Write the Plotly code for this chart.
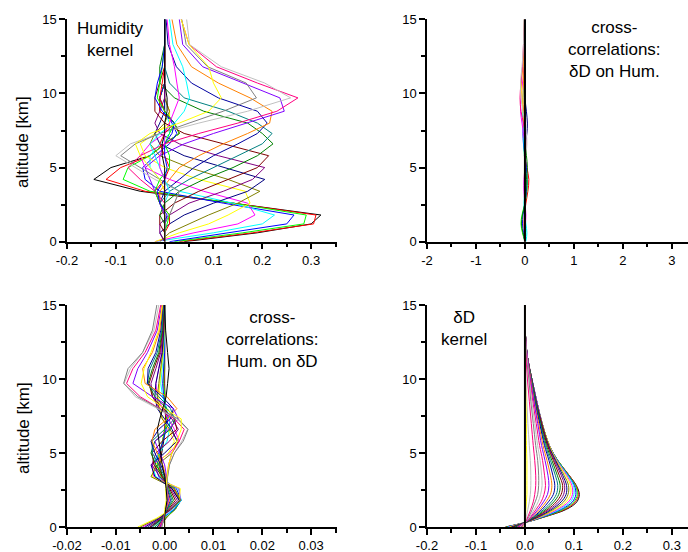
import plotly.graph_objects as go

FONT = "Liberation Sans, Arial, sans-serif"
W, H = 688, 552

# ---------------- colours (Origin palette order) ----------------
BLACK, RED, GREEN, BLUE, CYAN, MAGENTA, YELLOW = "#000000", "#FF0000", "#00FF00", "#0000FF", "#00FFFF", "#FF00FF", "#FFFF00"
DKYELLOW, NAVY, PURPLE, WINE, OLIVE, DKCYAN, ROYAL = "#808000", "#000080", "#800080", "#800000", "#008000", "#008080", "#0000A0"
ORANGE, VIOLET, PINK, LTGRAY, GRAY = "#FF8000", "#8000FF", "#FF0080", "#C0C0C0", "#808080"

# ---------------- altitude grids (km) ----------------
alt_levels = [0, 0.6, 1.2, 1.8, 2.6, 3.4, 4.2, 5.0, 5.8, 6.6, 7.3, 8.0, 8.8, 9.7, 10.7, 11.8, 13.3, 15]
alt_levels_dD = [0, 0.3, 0.7, 1.2, 1.7, 2.2, 2.8, 3.5, 4.5, 5.5, 7.0, 8.5, 10.0, 11.5, 13.0, 15.0]

# ---------------- panel 1: humidity kernel ----------------
hum_colors = [BLACK, RED, GREEN, BLUE, CYAN, MAGENTA, YELLOW, DKYELLOW, NAVY, PURPLE, WINE, OLIVE,
              DKCYAN, ROYAL, ORANGE, VIOLET, PINK, LTGRAY, GRAY,
              RED, GREEN, BLUE, CYAN, MAGENTA, YELLOW, BLACK]
hum_rows = [
    [0.04, 0.19, 0.30, 0.32, 0.14, -0.05, -0.145, -0.11, -0.03, 0.00, 0.03, 0.02, -0.01, -0.01, 0, 0, 0, 0],
    [0.03, 0.18, 0.305, 0.31, 0.14, -0.04, -0.12, -0.09, -0.03, 0.00, 0.03, 0.02, -0.01, -0.01, 0, 0, 0, 0],
    [0.02, 0.16, 0.285, 0.29, 0.14, -0.03, -0.085, -0.075, -0.03, 0.00, 0.03, 0.02, 0.00, -0.01, 0, 0, 0, 0],
    [0.01, 0.13, 0.25, 0.265, 0.12, -0.01, -0.04, -0.045, -0.02, 0.01, 0.025, 0.015, 0.00, -0.01, 0, 0, 0, 0],
    [-0.02, 0.10, 0.20, 0.225, 0.14, 0.03, -0.01, -0.03, -0.03, -0.01, 0.01, 0.01, 0.00, 0.00, 0, 0, 0, 0],
    [-0.02, 0.06, 0.15, 0.185, 0.17, 0.08, 0.01, -0.04, -0.05, -0.03, 0.00, 0.01, 0.01, 0.00, 0, 0, 0, 0],
    [-0.02, 0.03, 0.09, 0.13, 0.175, 0.165, 0.07, 0.00, -0.04, -0.05, -0.02, 0.01, 0.01, 0.00, 0, 0, 0, 0],
    [-0.01, 0.01, 0.05, 0.09, 0.15, 0.195, 0.13, 0.05, -0.01, -0.03, -0.02, 0.00, 0.01, 0.00, 0, 0, 0, 0],
    [0.00, -0.01, 0.01, 0.04, 0.10, 0.17, 0.205, 0.12, 0.04, -0.01, -0.02, -0.01, 0.00, 0.00, 0, 0, 0, 0],
    [0.00, -0.01, -0.01, 0.01, 0.05, 0.12, 0.18, 0.205, 0.11, 0.03, -0.01, -0.02, -0.01, 0.00, 0, 0, 0, 0],
    [0.00, 0.00, -0.01, -0.01, 0.02, 0.07, 0.13, 0.19, 0.213, 0.12, 0.04, 0.00, -0.02, -0.02, -0.01, 0, 0, 0],
    [0.00, 0.00, 0.00, -0.01, 0.00, 0.03, 0.08, 0.14, 0.19, 0.222, 0.20, 0.17, 0.08, 0.02, -0.01, -0.01, 0, 0],
    [0.00, 0.00, 0.00, 0.00, -0.01, 0.01, 0.05, 0.10, 0.15, 0.20, 0.22, 0.19, 0.13, 0.04, 0.01, 0.00, 0, 0],
    [0.00, 0.00, 0.00, 0.00, -0.01, 0.00, 0.03, 0.06, 0.10, 0.15, 0.19, 0.21, 0.19, 0.11, 0.055, 0.024, 0.007, 0.003],
    [0.00, 0.00, 0.00, 0.00, -0.01, -0.01, 0.01, 0.03, 0.07, 0.12, 0.17, 0.215, 0.22, 0.175, 0.11, 0.055, 0.025, 0.015],
    [0.00, 0.00, 0.00, 0.00, -0.01, -0.02, -0.03, -0.04, -0.01, 0.04, 0.10, 0.17, 0.245, 0.236, 0.16, 0.078, 0.037, 0.030],
    [0.00, 0.00, 0.00, 0.00, 0.00, -0.02, -0.05, -0.075, -0.05, 0.00, 0.07, 0.15, 0.23, 0.273, 0.19, 0.106, 0.05, 0.034],
    [0.00, 0.00, 0.00, 0.01, 0.02, 0.03, -0.02, -0.06, -0.10, -0.07, -0.01, 0.07, 0.17, 0.258, 0.205, 0.116, 0.051, 0.045],
    [0.00, 0.00, 0.00, 0.01, 0.02, 0.03, -0.01, -0.05, -0.09, -0.06, -0.01, 0.05, 0.12, 0.188, 0.167, 0.088, 0.044, 0.035],
    [0.00, 0.00, 0.01, 0.01, -0.01, -0.02, 0.00, 0.01, 0.00, -0.01, 0.00, 0.02, 0.00, -0.01, -0.005, 0, 0, 0],
    [0.00, 0.00, 0.005, 0.01, -0.01, -0.02, -0.01, 0.01, 0.01, 0.00, 0.01, 0.02, 0.00, -0.015, -0.01, -0.005, 0, 0],
    [0.00, 0.00, 0.00, 0.005, -0.01, -0.015, 0.00, 0.005, 0.00, 0.00, 0.015, 0.02, -0.005, -0.02, -0.015, -0.005, 0, 0],
    [0.00, 0.00, 0.00, 0.00, 0.00, 0.01, 0.00, -0.01, -0.02, -0.03, -0.01, 0.02, 0.04, 0.051, 0.045, 0.037, 0.017, 0.01],
    [0.00, 0.00, 0.00, 0.00, 0.00, 0.00, 0.00, -0.01, -0.01, 0.00, 0.00, 0.01, 0.02, 0.03, 0.025, 0.02, 0.01, 0.005],
    [0.00, 0.00, 0.00, 0.00, 0.00, 0.00, -0.01, -0.03, -0.05, -0.06, -0.03, 0.03, 0.09, 0.116, 0.10, 0.09, 0.05, 0.034],
    [0.00, 0.00, 0.00, 0.00, 0.00, 0.00, 0.00, 0.00, -0.005, -0.005, 0.00, 0.00, 0.005, 0.005, 0.00, 0.00, 0.00, 0.00],
]

# ---------------- panel 2: cross-correlations dD on Hum. ----------------
dh_colors = [RED, GREEN, BLUE, CYAN, MAGENTA, YELLOW, NAVY, ORANGE, PINK, LTGRAY, OLIVE, BLACK]
dh_rows = [
    [0.0, -0.01, -0.02, -0.01, 0.02, 0.06, 0.08, 0.04, 0.0, -0.02, -0.03, -0.02, -0.01, 0, 0, 0, 0, 0],
    [0.0, -0.05, -0.08, -0.06, 0.0, 0.04, 0.05, 0.02, -0.01, -0.02, -0.02, -0.01, 0, 0, 0, 0, 0, 0],
    [0.0, -0.03, -0.05, -0.04, 0.0, 0.03, 0.04, 0.03, 0.0, -0.03, -0.04, -0.03, -0.01, 0, 0, 0, 0, 0],
    [0.02, 0.04, 0.02, 0.0, -0.02, 0.0, 0.02, 0.01, -0.01, -0.02, -0.03, -0.04, -0.05, -0.04, -0.02, -0.01, 0, 0],
    [0, 0, 0.01, 0.02, 0.0, -0.02, -0.02, 0.0, 0.01, 0.0, -0.03, -0.06, -0.09, -0.08, -0.05, -0.02, -0.01, 0],
    [0, 0, 0, 0.01, 0.01, 0.0, -0.01, -0.01, 0.0, 0.01, 0.0, -0.02, -0.04, -0.06, -0.07, -0.04, -0.02, -0.01],
    [0, 0, 0, 0, 0, 0, 0, 0, -0.01, 0.01, 0.04, 0.05, 0.03, 0.0, -0.01, -0.01, 0, 0],
    [0, 0, 0, 0, 0, 0, 0, 0, 0.01, 0.02, 0.0, -0.02, -0.03, -0.04, -0.03, -0.02, -0.02, -0.01],
    [0, 0, 0, 0, 0, 0, 0, 0, 0.01, 0.02, 0.01, -0.03, -0.08, -0.1, -0.08, -0.05, -0.03, -0.01],
    [0, 0, 0, 0, 0.01, 0.01, 0, 0, 0.02, 0.04, 0.03, 0.0, -0.04, -0.08, -0.09, -0.06, -0.03, -0.02],
    [0, -0.04, -0.07, -0.05, 0.0, 0.02, 0.03, 0.05, 0.03, 0.0, -0.01, 0, 0, 0, 0, 0, 0, 0],
    [0, 0, 0, 0, 0, 0, 0, 0, 0, 0, 0, 0, 0, 0, 0, 0, 0, 0],
]

# ---------------- panel 3: cross-correlations Hum. on dD ----------------
hd_colors = [BLACK, RED, GREEN, BLUE, CYAN, MAGENTA, YELLOW, DKYELLOW, NAVY, PURPLE, WINE, OLIVE,
             DKCYAN, ROYAL, ORANGE, VIOLET, PINK, LTGRAY, GRAY, YELLOW, BLACK]
hd_rows = [
    [-0.0010, 0.0003, 0.0020, 0.0030, 0.0015, -0.0005, -0.0010, -0.0006, -0.0002, 0.0, 0.0002, 0.0001, 0.0, 0.0, 0.0, 0.0, 0.0, 0.0],
    [-0.0015, 0.0002, 0.0022, 0.0032, 0.0018, -0.0006, -0.0012, -0.0008, -0.0003, 0.0, 0.0003, 0.0002, 0.0, -0.0001, 0.0, 0.0, 0.0, 0.0],
    [-0.0020, 0.0, 0.0022, 0.0033, 0.0020, -0.0008, -0.0015, -0.0010, -0.0004, 0.0001, 0.0004, 0.0002, 0.0, -0.0002, -0.0001, 0.0, 0.0, 0.0],
    [-0.0028, -0.0003, 0.0020, 0.0034, 0.0024, -0.0012, -0.0020, -0.0012, -0.0003, 0.0003, 0.0006, 0.0003, -0.0002, -0.0004, -0.0002, 0.0, 0.0, 0.0],
    [-0.0035, -0.0006, 0.0018, 0.0034, 0.0028, -0.0018, -0.0026, -0.0010, 0.0005, 0.0010, 0.0010, 0.0004, -0.0004, -0.0008, -0.0005, -0.0002, 0.0, 0.0],
    [-0.0045, -0.0010, 0.0015, 0.0032, 0.0030, -0.0022, -0.0026, 0.0010, 0.0030, 0.0020, 0.0008, -0.0004, -0.0015, -0.0018, -0.0012, -0.0006, -0.0002, 0.0],
    [-0.0055, -0.0016, 0.0012, 0.0030, 0.0032, -0.0026, -0.0020, 0.0008, 0.0020, 0.0008, -0.0004, -0.0010, -0.0012, -0.0010, -0.0006, -0.0003, -0.0001, 0.0],
    [-0.0050, -0.0012, 0.0014, 0.0033, 0.0020, -0.0028, -0.0015, 0.0015, 0.0028, 0.0010, -0.0005, -0.0012, -0.0015, -0.0012, -0.0008, -0.0004, -0.0001, 0.0],
    [-0.0040, -0.0010, 0.0012, 0.0030, 0.0015, -0.0020, -0.0028, 0.0, 0.0025, 0.0015, 0.0, -0.0015, -0.0020, -0.0018, -0.0012, -0.0005, -0.0002, 0.0],
    [-0.0035, -0.0008, 0.0010, 0.0026, 0.0012, -0.0010, -0.0026, -0.0018, 0.0010, 0.0028, 0.0015, -0.0010, -0.0025, -0.0028, -0.0018, -0.0008, -0.0003, -0.0001],
    [-0.0030, -0.0006, 0.0008, 0.0022, 0.0010, -0.0005, -0.0022, -0.0026, -0.0005, 0.0025, 0.0020, -0.0003, -0.0025, -0.0032, -0.0022, -0.0010, -0.0004, -0.0001],
    [-0.0025, -0.0005, 0.0006, 0.0018, 0.0008, -0.0002, -0.0018, -0.0028, -0.0020, 0.0012, 0.0022, 0.0005, -0.0020, -0.0034, -0.0025, -0.0012, -0.0005, -0.0002],
    [-0.0020, -0.0004, 0.0005, 0.0015, 0.0006, 0.0, -0.0012, -0.0025, -0.0026, 0.0, 0.0020, 0.0012, -0.0012, -0.0036, -0.0030, -0.0015, -0.0006, -0.0002],
    [-0.0015, -0.0003, 0.0004, 0.0012, 0.0005, 0.0002, -0.0008, -0.0020, -0.0028, -0.0012, 0.0012, 0.0018, -0.0005, -0.0035, -0.0034, -0.0018, -0.0008, -0.0003],
    [-0.0012, -0.0002, 0.0003, 0.0010, 0.0004, 0.0003, -0.0004, -0.0015, -0.0026, -0.0020, 0.0005, 0.0025, 0.0005, -0.0040, -0.0045, -0.0025, -0.0010, -0.0004],
    [-0.0010, -0.0002, 0.0002, 0.0008, 0.0004, 0.0004, 0.0, -0.0010, -0.0020, 0.0008, 0.0028, 0.0018, -0.0025, -0.0065, -0.0055, -0.0035, -0.0015, -0.0006],
    [-0.0008, -0.0002, 0.0002, 0.0006, 0.0004, 0.0005, 0.0008, 0.0015, 0.0030, 0.0040, 0.0020, -0.0010, -0.0050, -0.0078, -0.0065, -0.0040, -0.0018, -0.0008],
    [-0.0006, -0.0001, 0.0002, 0.0005, 0.0004, 0.0006, 0.0010, 0.0020, 0.0035, 0.0047, 0.0025, -0.0015, -0.0060, -0.0083, -0.0070, -0.0045, -0.0022, -0.0012],
    [-0.0006, -0.0001, 0.0002, 0.0005, 0.0004, 0.0006, 0.0010, 0.0020, 0.0038, 0.0048, 0.0028, -0.0010, -0.0055, -0.0084, -0.0075, -0.0045, -0.0025, -0.0016],
    [0.0, 0.0, 0.0, 0.0003, 0.0002, 0.0005, 0.0008, 0.0015, 0.0025, 0.0034, 0.0034, 0.0, -0.0035, -0.0048, -0.0042, -0.0028, -0.0012, -0.0005],
    [0.0, 0.0, 0.0002, 0.0005, 0.0003, 0.0, -0.0005, -0.0008, -0.0012, -0.0015, -0.0010, -0.0004, 0.0003, 0.0006, 0.0009, 0.0006, 0.0002, 0.0],
]

# ---------------- panel 4: dD kernel ----------------
dd_colors = [BLACK, RED, GREEN, BLUE, CYAN, MAGENTA, YELLOW, DKYELLOW, NAVY, PURPLE, WINE, OLIVE,
             DKCYAN, ROYAL, ORANGE, VIOLET, PINK, LTGRAY, GRAY, PINK, LTGRAY, YELLOW, BLACK]
dd_rows = [
    [-0.040, 0.0, 0.042, 0.085, 0.106, 0.111, 0.105, 0.090, 0.067, 0.050, 0.035, 0.024, 0.014, 0.005, 0.001, 0.0],
    [-0.039, 0.0, 0.041, 0.082, 0.103, 0.109, 0.104, 0.090, 0.067, 0.050, 0.035, 0.024, 0.014, 0.005, 0.001, 0.0],
    [-0.038, 0.0, 0.040, 0.079, 0.100, 0.107, 0.103, 0.089, 0.067, 0.050, 0.035, 0.024, 0.014, 0.005, 0.001, 0.0],
    [-0.036, 0.0, 0.038, 0.075, 0.097, 0.104, 0.101, 0.088, 0.066, 0.050, 0.035, 0.024, 0.014, 0.005, 0.001, 0.0],
    [-0.035, 0.0, 0.036, 0.071, 0.093, 0.100, 0.099, 0.087, 0.066, 0.050, 0.035, 0.024, 0.014, 0.005, 0.001, 0.0],
    [-0.033, 0.0, 0.034, 0.067, 0.089, 0.097, 0.096, 0.085, 0.065, 0.050, 0.035, 0.024, 0.014, 0.005, 0.001, 0.0],
    [-0.031, 0.0, 0.032, 0.063, 0.084, 0.093, 0.093, 0.083, 0.064, 0.050, 0.035, 0.023, 0.014, 0.005, 0.001, 0.0],
    [-0.029, 0.0, 0.030, 0.059, 0.079, 0.088, 0.089, 0.080, 0.063, 0.049, 0.035, 0.023, 0.014, 0.005, 0.001, 0.0],
    [-0.027, 0.0, 0.028, 0.055, 0.074, 0.084, 0.085, 0.077, 0.062, 0.048, 0.034, 0.023, 0.014, 0.005, 0.001, 0.0],
    [-0.025, 0.0, 0.026, 0.051, 0.069, 0.079, 0.081, 0.074, 0.060, 0.047, 0.034, 0.023, 0.014, 0.005, 0.001, 0.0],
    [-0.024, 0.0, 0.024, 0.047, 0.064, 0.074, 0.077, 0.070, 0.058, 0.046, 0.033, 0.022, 0.013, 0.005, 0.001, 0.0],
    [-0.022, 0.0, 0.022, 0.043, 0.059, 0.069, 0.072, 0.066, 0.055, 0.044, 0.032, 0.022, 0.013, 0.005, 0.001, 0.0],
    [-0.020, 0.0, 0.020, 0.039, 0.054, 0.064, 0.067, 0.062, 0.052, 0.042, 0.031, 0.021, 0.013, 0.005, 0.001, 0.0],
    [-0.018, 0.0, 0.018, 0.035, 0.048, 0.058, 0.061, 0.057, 0.049, 0.040, 0.030, 0.020, 0.012, 0.005, 0.001, 0.0],
    [-0.016, 0.0, 0.016, 0.031, 0.043, 0.052, 0.055, 0.052, 0.045, 0.037, 0.028, 0.019, 0.012, 0.005, 0.001, 0.0],
    [-0.014, 0.0, 0.014, 0.027, 0.038, 0.046, 0.049, 0.047, 0.041, 0.034, 0.026, 0.018, 0.011, 0.005, 0.001, 0.0],
    [-0.012, 0.0, 0.012, 0.023, 0.033, 0.039, 0.042, 0.040, 0.036, 0.030, 0.023, 0.016, 0.010, 0.004, 0.001, 0.0],
    [-0.010, 0.0, 0.010, 0.019, 0.027, 0.032, 0.035, 0.034, 0.031, 0.026, 0.020, 0.014, 0.009, 0.004, 0.001, 0.0],
    [-0.008, 0.0, 0.008, 0.015, 0.021, 0.026, 0.028, 0.028, 0.026, 0.022, 0.017, 0.012, 0.008, 0.003, 0.001, 0.0],
    [-0.006, 0.0, 0.006, 0.012, 0.017, 0.020, 0.022, 0.022, 0.020, 0.017, 0.013, 0.009, 0.005, 0.002, 0.0, 0.0],
    [-0.004, 0.0, 0.003, 0.006, 0.009, 0.011, 0.012, 0.012, 0.011, 0.009, 0.006, 0.004, 0.002, 0.001, 0.0, 0.0],
    [-0.002, 0.0, 0.001, 0.002, 0.003, 0.004, 0.004, 0.004, 0.004, 0.003, 0.003, 0.002, 0.001, 0.001, 0.0, 0.0],
    [0.0, 0.0, 0.0, 0.0, 0.0, 0.0, 0.0, 0.0, 0.0, 0.0, 0.0, 0.0, 0.0, 0.0, 0.0, 0.0],
]

# ---------------- ticks ----------------
y_tickvals = [0, 5, 10, 15]
y_ticktext = ["0", "5", "10", "15"]
y_minor = [2.5, 7.5, 12.5]
x1_tickvals = [-0.2, -0.1, 0.0, 0.1, 0.2, 0.3]
x1_ticktext = ["-0.2", "-0.1", "0.0", "0.1", "0.2", "0.3"]
x1_minor = [-0.15, -0.05, 0.05, 0.15, 0.25, 0.35]
x2_tickvals = [-2, -1, 0, 1, 2, 3]
x2_ticktext = ["-2", "-1", "0", "1", "2", "3"]
x2_minor = [-1.5, -0.5, 0.5, 1.5, 2.5]
x3_tickvals = [-0.02, -0.01, 0.0, 0.01, 0.02, 0.03]
x3_ticktext = ["-0.02", "-0.01", "0.00", "0.01", "0.02", "0.03"]
x3_minor = [-0.015, -0.005, 0.005, 0.015, 0.025, 0.035]

fig = go.Figure()


def add_panel(rows, colors, alts, xa, ya, shape, zero_width):
    for vals, col in zip(rows, colors):
        is_zero = all(v == 0 for v in vals)
        fig.add_trace(go.Scatter(
            x=vals, y=alts, mode="lines", xaxis=xa, yaxis=ya,
            line=dict(color=col, width=(zero_width if is_zero else 1), shape=shape),
            showlegend=False, hoverinfo="skip"))


add_panel(hum_rows, hum_colors, alt_levels, "x", "y", "linear", 1.5)
add_panel(dh_rows, dh_colors, alt_levels, "x2", "y2", "spline", 2)
add_panel(hd_rows, hd_colors, alt_levels, "x3", "y3", "linear", 1.5)
add_panel(dd_rows, dd_colors, alt_levels_dD, "x4", "y4", "spline", 2)


def px_x(p):
    return p / W


def px_y(p):
    return 1 - p / H


def axis(domain, rng, tv, tt, minor, anchor):
    return dict(domain=domain, range=rng, anchor=anchor, tickmode="array", tickvals=tv, ticktext=tt,
                showline=True, linecolor="black", linewidth=1.5, ticks="outside", ticklen=6,
                tickwidth=1.5, tickcolor="black", showgrid=False, zeroline=False,
                tickfont=dict(family=FONT, size=13, color="black"), automargin=False,
                minor=dict(tickmode="array", tickvals=minor, ticks="outside", ticklen=4,
                           tickwidth=1.5, tickcolor="black", showgrid=False))


top = [px_y(241.7), px_y(19.3)]
bot = [px_y(527), px_y(305)]
left = [px_x(67), px_x(337)]
right = [px_x(427), 1.0]

fig.update_layout(
    width=W, height=H, margin=dict(l=0, r=0, t=0, b=0),
    paper_bgcolor="white", plot_bgcolor="white", template="none",
    font=dict(family=FONT, color="black"),
    xaxis=axis(left, [-0.2, 0.353], x1_tickvals, x1_ticktext, x1_minor, "y"),
    yaxis=axis(top, [0, 15], y_tickvals, y_ticktext, y_minor, "x"),
    xaxis2=axis(right, [-2, 3.33], x2_tickvals, x2_ticktext, x2_minor, "y2"),
    yaxis2=axis(top, [0, 15], y_tickvals, y_ticktext, y_minor, "x2"),
    xaxis3=axis(left, [-0.02, 0.0353], x3_tickvals, x3_ticktext, x3_minor, "y3"),
    yaxis3=axis(bot, [0, 15], y_tickvals, y_ticktext, y_minor, "x3"),
    xaxis4=axis(right, [-0.2, 0.333], x1_tickvals, x1_ticktext, x1_minor, "y4"),
    yaxis4=axis(bot, [0, 15], y_tickvals, y_ticktext, y_minor, "x4"),
)

labels = [
    ("Humidity<br>kernel", 110, 40, 0),
    ("cross-<br>correlations:<br>δD on Hum.", 614, 50, 0),
    ("cross-<br>correlations:<br>Hum. on δD", 272, 339, 0),
    ("δD<br>kernel", 464, 328, 0),
    ("altitude [km]", 22, 142, -90),
    ("altitude [km]", 23, 428, -90),
]
for text, x, y, ang in labels:
    fig.add_annotation(text=text, xref="paper", yref="paper", x=px_x(x), y=px_y(y),
                       xanchor="center", yanchor="middle", showarrow=False, textangle=ang,
                       font=dict(family=FONT, size=17, color="black"), align="center")

fig.write_html("out.html", config={"displayModeBar": False},
               post_script="document.body.style.margin='0';document.body.style.overflow='hidden';")
